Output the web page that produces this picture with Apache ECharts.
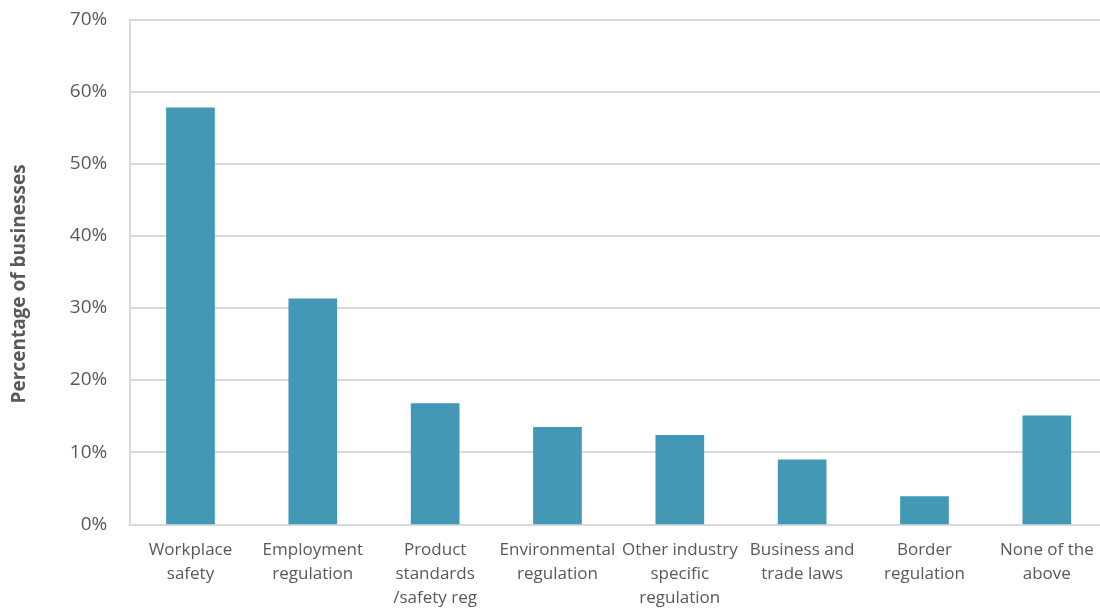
<!DOCTYPE html>
<html>
<head>
<meta charset="utf-8">
<script src="https://cdn.jsdelivr.net/npm/echarts@6/dist/echarts.min.js"></script>
<style>
  html, body { margin: 0; padding: 0; background: #fff; }
  #chart { width: 1100px; height: 610px; }
</style>
</head>
<body>
<div id="chart"></div>
<script>
// Regulation areas reported by businesses
const categories = [
  'Workplace\nsafety',
  'Employment\nregulation',
  'Product\nstandards\n/safety reg',
  'Environmental\nregulation',
  'Other industry\nspecific\nregulation',
  'Business and\ntrade laws',
  'Border\nregulation',
  'None of the\nabove'
];
// Share of businesses, in percent
const shares = [57.8, 31.3, 16.8, 13.5, 12.4, 9.0, 3.9, 15.1];
const yTicks = { min: 0, max: 70, interval: 10 };

const textColor = '#595959';
const fontFamily = '"Open Sans", sans-serif';

const chart = echarts.init(document.getElementById('chart'), null, { renderer: 'canvas' });
chart.setOption({
  animation: false,
  backgroundColor: '#ffffff',
  // the plot runs slightly past the right edge of the canvas
  grid: {
    left: 129.3, right: -8, top: 19.5, bottom: 85.7,
    containLabel: false,
    outerBoundsMode: 'none'
  },
  xAxis: {
    type: 'category',
    data: categories,
    axisLine: { lineStyle: { color: '#d9d9d9', width: 2 } },
    axisTick: { show: false },
    axisLabel: {
      interval: 0,
      color: textColor,
      fontFamily: fontFamily,
      fontSize: 17,
      lineHeight: 24,
      margin: 14
    }
  },
  yAxis: {
    type: 'value',
    min: yTicks.min,
    max: yTicks.max,
    interval: yTicks.interval,
    name: 'Percentage of businesses',
    nameLocation: 'middle',
    nameGap: 100,
    nameRotate: 90,
    nameTextStyle: {
      color: textColor,
      fontFamily: fontFamily,
      fontSize: 19,
      fontWeight: 'bold',
      // nudge the title slightly below the plot's midline
      padding: [0, 24, 0, 0]
    },
    axisLine: { show: true, lineStyle: { color: '#d9d9d9', width: 2 } },
    axisTick: { show: false },
    axisLabel: {
      color: textColor,
      fontFamily: fontFamily,
      fontSize: 19,
      margin: 22,
      formatter: v => v + '%'
    },
    splitLine: { lineStyle: { color: '#d9d9d9', width: 2 } }
  },
  series: [{
    type: 'bar',
    data: shares,
    barWidth: '39.8%',
    itemStyle: { color: '#4398b5' }
  }]
});
</script>
</body>
</html>
